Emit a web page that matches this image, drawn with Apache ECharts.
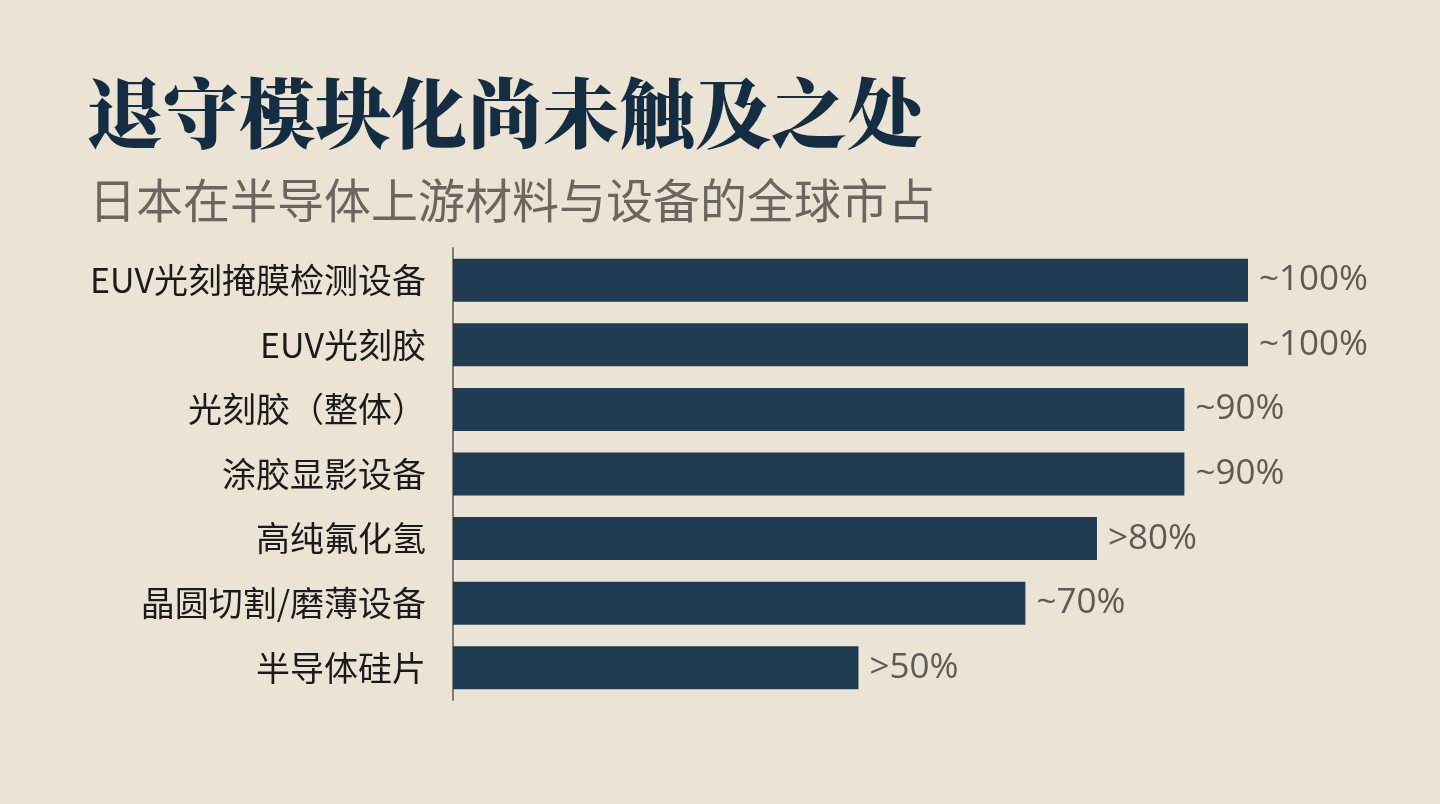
<!DOCTYPE html>
<html>
<head>
<meta charset="utf-8">
<script src="https://cdn.jsdelivr.net/npm/echarts@6/dist/echarts.min.js"></script>
<style>
  html, body { margin: 0; padding: 0; background: #ebe3d3; }
  #chartmain { width: 1440px; height: 804px; }
</style>
</head>
<body>
<div id="chartmain"></div>
<script>
// 数据
var categories = ['EUV光刻掩膜检测设备', 'EUV光刻胶', '光刻胶（整体）', '涂胶显影设备', '高纯氟化氢', '晶圆切割/磨薄设备', '半导体硅片'];
var shares = [100, 100, 92, 92, 81, 72, 51];
var shareLabels = ['~100%', '~100%', '~90%', '~90%', '>80%', '~70%', '>50%'];

var myChart = echarts.init(document.getElementById('chartmain'));

var option = {
  backgroundColor: '#ebe3d3',
  title: [{
    text: '退守模块化尚未触及之处',
    left: 82,
    top: 70,
    textStyle: {
      fontFamily: '"Noto Serif CJK SC", "Noto Sans CJK SC", serif',
      fontSize: 76,
      fontWeight: 900,
      color: '#142d42'
    }
  }, {
    text: '日本在半导体上游材料与设备的全球市占',
    left: 84,
    top: 172,
    textStyle: {
      fontFamily: '"Noto Sans CJK SC", sans-serif',
      fontSize: 47,
      fontWeight: 'normal',
      color: '#6b6760'
    }
  }],
  grid: {
    left: 453,
    right: 192,
    top: 248,
    bottom: 104,
    containLabel: false
  },
  xAxis: {
    type: 'value',
    min: 0,
    max: 100,
    show: false
  },
  yAxis: {
    type: 'category',
    data: categories,
    inverse: true,
    axisLine: { show: true, lineStyle: { color: '#807c76', width: 2 } },
    axisTick: { show: false },
    axisLabel: {
      margin: 27,
      fontFamily: '"Noto Sans CJK SC", sans-serif',
      fontSize: 34,
      color: '#1b1b1b'
    }
  },
  series: [{
    type: 'bar',
    data: shares,
    barWidth: 43,
    itemStyle: { color: '#1f3c53' },
    label: {
      show: true,
      position: 'right',
      distance: 11,
      fontFamily: '"Open Sans", sans-serif',
      fontSize: 35,
      color: '#5e5a55',
      formatter: function (p) { return shareLabels[p.dataIndex]; }
    },
    animation: false
  }]
};
myChart.setOption(option);
</script>
</body>
</html>
